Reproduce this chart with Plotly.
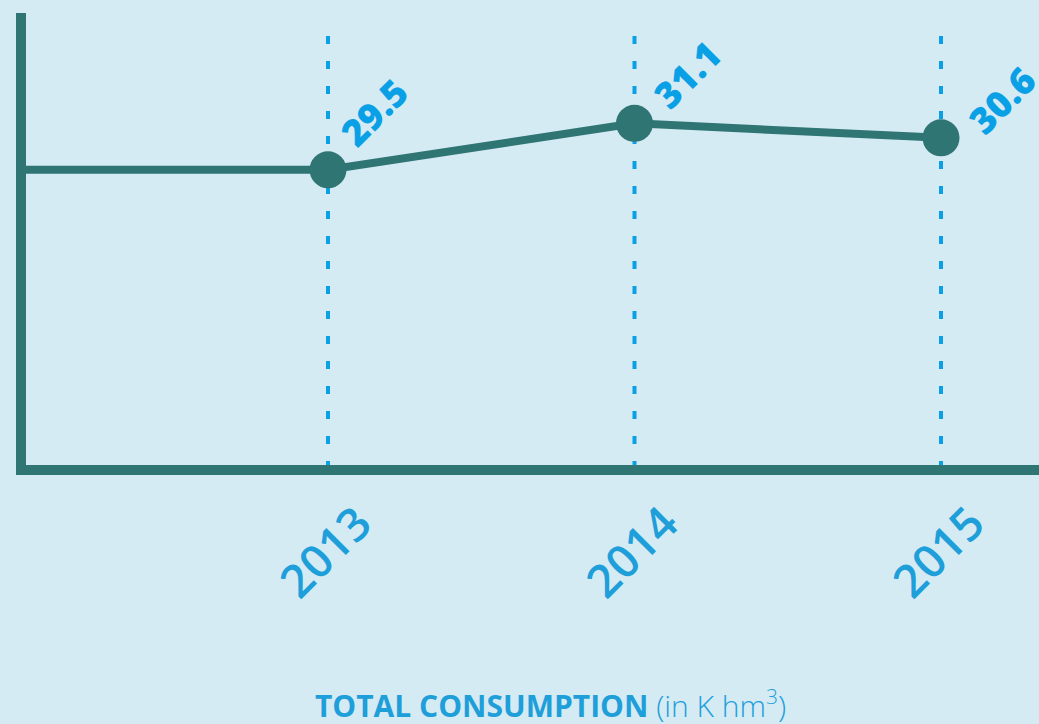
import plotly.graph_objects as go

years = [2013, 2014, 2015]
values = [29.5, 31.1, 30.6]
value_labels = ["29.5", "31.1", "30.6"]
tick_text = ["2013", "2014", "2015"]
title_main = "TOTAL CONSUMPTION"
title_unit = "(in K hm<sup>3</sup>)"

BG = "#d5ebf4"
TEAL = "#2f7574"
BLUE = "#1e9fda"
DOT = "#0aa0e6"

x_range = [2012.0147, 2015.3197]
y_range = [19.331, 34.901]

fig = go.Figure()

# line (leading flat segment from the axis, then data)
fig.add_trace(go.Scatter(
    x=[x_range[0]] + years,
    y=[values[0]] + values,
    mode="lines",
    line=dict(color=TEAL, width=8),
    hoverinfo="skip",
    showlegend=False,
))
fig.add_trace(go.Scatter(
    x=years,
    y=values,
    mode="markers",
    marker=dict(color=TEAL, size=37, line=dict(width=0)),
    cliponaxis=False,
    showlegend=False,
))

# dotted vertical guides
for yr in years:
    fig.add_shape(type="line", xref="x", yref="paper",
                  x0=yr, x1=yr, y0=0.949, y1=0,
                  line=dict(color=DOT, width=4, dash="8px,17px"),
                  layer="below")

# value labels
label_shift = [(46, 58), (52, 49), (61, 38)]
for yr, v, t, (dx, dy) in zip(years, values, value_labels, label_shift):
    fig.add_annotation(x=yr, y=v, text=t, showarrow=False,
                       textangle=-45, xanchor="center", yanchor="middle",
                       xshift=dx, yshift=dy,
                       font=dict(family="Open Sans", size=37, color=DOT, weight=800))

# title
fig.add_annotation(xref="paper", yref="paper", x=0.5177, y=-0.528,
                   xanchor="center", yanchor="middle", showarrow=False,
                   text=f"<b>{title_main}</b> <span style='font-weight:300'>{title_unit}</span>",
                   font=dict(family="Open Sans", size=30, color=BLUE, weight=800))

fig.update_layout(
    width=1039, height=724,
    margin=dict(l=26, r=0, t=13, b=259, autoexpand=False),
    paper_bgcolor=BG, plot_bgcolor=BG,
    xaxis=dict(range=x_range, showgrid=False, zeroline=False,
               showline=True, linecolor=TEAL, linewidth=10,
               tickmode="array", tickvals=years, ticktext=tick_text,
               ticks="", tickangle=-45, ticklabelshift=30, ticklabelstandoff=3,
               tickfont=dict(family="Open Sans", size=46, color=BLUE, weight=600)),
    yaxis=dict(range=y_range, showgrid=False, zeroline=False,
               showline=True, linecolor=TEAL, linewidth=10,
               showticklabels=False, ticks=""),
)

fig.write_html("out.html",
               config={"displayModeBar": False},
               post_script="document.body.style.margin='0';document.body.style.overflow='hidden';document.body.style.background='" + BG + "';")
